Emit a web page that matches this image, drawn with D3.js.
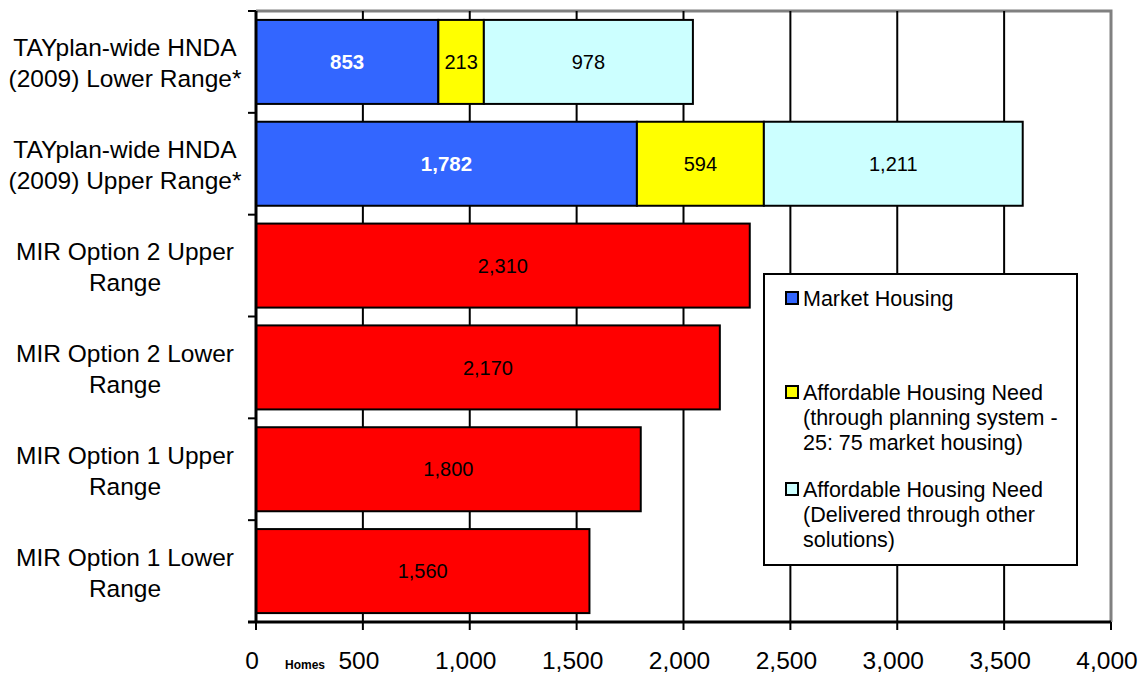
<!DOCTYPE html>
<html><head><meta charset="utf-8">
<script src="https://cdn.jsdelivr.net/npm/d3@7"></script>
<style>body{margin:0;background:#fff;font-family:"Liberation Sans",Arial,sans-serif;}</style>
</head><body><svg id="c" width="1146" height="675"></svg>
<script>
const categories = [
  ["TAYplan-wide HNDA","(2009) Lower Range*"],
  ["TAYplan-wide HNDA","(2009) Upper Range*"],
  ["MIR Option 2 Upper","Range"],
  ["MIR Option 2 Lower","Range"],
  ["MIR Option 1 Upper","Range"],
  ["MIR Option 1 Lower","Range"]
];
const marketHousing = [853, 1782, null, null, null, null];
const affordablePlanning = [213, 594, null, null, null, null];
const affordableOther = [978, 1211, null, null, null, null];
const mirTotals = [null, null, 2310, 2170, 1800, 1560];
const xTicks = [0,500,1000,1500,2000,2500,3000,3500,4000];
const legendItems = [
  {name:["Market Housing"], color:"#3366FF"},
  {name:["Affordable Housing Need","(through planning system -","25: 75 market housing)"], color:"#FFFF00"},
  {name:["Affordable Housing Need","(Delivered through other","solutions)"], color:"#CCFFFF"}
];

const svg = d3.select("#c");
const L=256, R=1111, T=11, B=622;
const x = d3.scaleLinear().domain([0,4000]).range([L,R]);
const y = d3.scaleBand().domain(d3.range(categories.length)).range([T,B]).paddingInner(0.175).paddingOuter(0.0875);
const fmt = d3.format(",");

// plot border (gray top/right)
svg.append("path").attr("d",`M${L},${T}H${R}V${B}`).attr("fill","none").attr("stroke","#808080").attr("stroke-width",3);
// gridlines
svg.append("g").selectAll("line").data(xTicks.slice(1,-1)).join("line")
  .attr("x1",d=>x(d)).attr("x2",d=>x(d)).attr("y1",T).attr("y2",B)
  .attr("stroke","#000").attr("stroke-width",2);

// stacked bars
const stackSeries = [
  {vals:marketHousing, color:"#3366FF", text:"#fff", bold:true},
  {vals:affordablePlanning, color:"#FFFF00", text:"#000", bold:false},
  {vals:affordableOther, color:"#CCFFFF", text:"#000", bold:false}
];
const g = svg.append("g");
categories.forEach((c,i)=>{
  let acc=0;
  stackSeries.forEach(s=>{
    const v=s.vals[i]; if(v==null) return;
    const x0=x(acc), x1=x(acc+v);
    g.append("rect").attr("x",x0).attr("y",y(i)).attr("width",x1-x0).attr("height",y.bandwidth())
      .attr("fill",s.color).attr("stroke","#000").attr("stroke-width",2);
    g.append("text").attr("x",(x0+x1)/2).attr("y",y(i)+y.bandwidth()/2).attr("dy","0.36em")
      .attr("text-anchor","middle").attr("font-size",s.bold?20.5:20).attr("fill",s.text)
      .attr("font-weight",s.bold?"bold":"normal").text(fmt(v));
    acc+=v;
  });
  const m=mirTotals[i];
  if(m!=null){
    g.append("rect").attr("x",x(0)).attr("y",y(i)).attr("width",x(m)-x(0)).attr("height",y.bandwidth())
      .attr("fill","#FF0000").attr("stroke","#000").attr("stroke-width",2);
    g.append("text").attr("x",(x(0)+x(m))/2).attr("y",y(i)+y.bandwidth()/2).attr("dy","0.36em")
      .attr("text-anchor","middle").attr("font-size",20).attr("fill","#000").text(fmt(m));
  }
});

// y axis
const step=(B-T)/categories.length;
svg.append("line").attr("x1",L).attr("x2",L).attr("y1",T).attr("y2",B).attr("stroke","#000").attr("stroke-width",3);
svg.append("g").selectAll("line").data(d3.range(categories.length+1)).join("line")
  .attr("x1",L-8).attr("x2",L).attr("y1",d=>T+d*step).attr("y2",d=>T+d*step).attr("stroke","#000").attr("stroke-width",2);
// category labels
categories.forEach((c,i)=>{
  const cy=y(i)+y.bandwidth()/2;
  const t=svg.append("text").attr("text-anchor","middle").attr("font-size",24.5).attr("fill","#000");
  c.forEach((ln,j)=>t.append("tspan").attr("x",125).attr("y",cy-15.5+j*31+10).text(ln));
});

// x axis
svg.append("line").attr("x1",L-8).attr("x2",R).attr("y1",B).attr("y2",B).attr("stroke","#000").attr("stroke-width",3);
svg.append("g").selectAll("line").data(xTicks).join("line")
  .attr("x1",d=>x(d)).attr("x2",d=>x(d)).attr("y1",B).attr("y2",B+8).attr("stroke","#000").attr("stroke-width",2);
svg.append("g").selectAll("text").data(xTicks).join("text")
  .attr("x",d=>x(d)-4).attr("y",669).attr("text-anchor","middle").attr("font-size",24.5).attr("fill","#000")
  .text(d=>fmt(d));
svg.append("text").attr("x",305).attr("y",669).attr("text-anchor","middle").attr("font-size",12)
  .attr("font-weight","bold").text("Homes");

// legend
const lg=svg.append("g");
lg.append("rect").attr("x",764).attr("y",274).attr("width",313).attr("height",291)
  .attr("fill","#fff").attr("stroke","#000").attr("stroke-width",2);
const legY=[298,392,489];
legendItems.forEach((it,i)=>{
  lg.append("rect").attr("x",786).attr("y",legY[i]-6).attr("width",12).attr("height",12)
    .attr("fill",it.color).attr("stroke","#000").attr("stroke-width",2);
  const t=lg.append("text").attr("font-size",21.5).attr("fill","#000");
  it.name.forEach((ln,j)=>t.append("tspan").attr("x",803).attr("y",legY[i]+7.5+j*25).text(ln));
});
</script></body></html>
